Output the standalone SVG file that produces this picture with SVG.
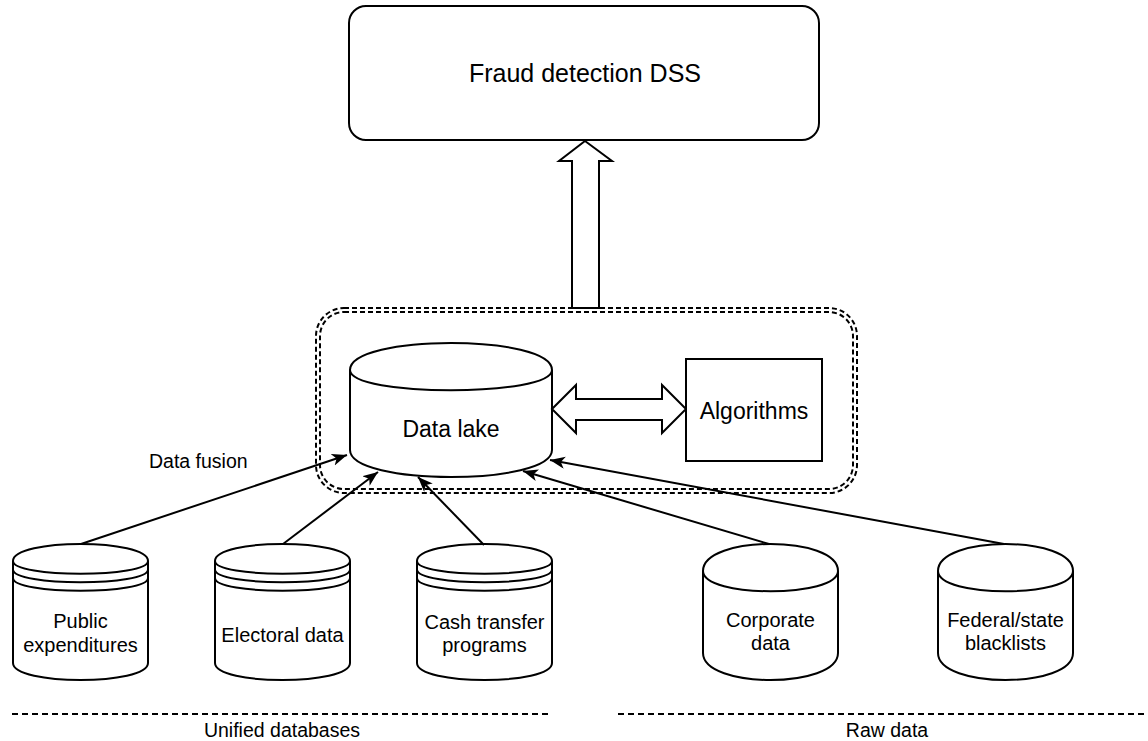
<svg xmlns="http://www.w3.org/2000/svg" width="1148" height="741" viewBox="0 0 1148 741">
<style>
.s{fill:#fff;stroke:#000;stroke-width:2}
.ln{fill:none;stroke:#000;stroke-width:2}
.t{font-family:"Liberation Sans",Arial,sans-serif;fill:#000;text-anchor:middle}
.big{font-size:25px}
.md{font-size:23px}
.sm{font-size:20px}
.lb{font-size:19.5px}
.dash{fill:none;stroke:#000;stroke-width:2;stroke-dasharray:5 3}
.sep{fill:none;stroke:#000;stroke-width:2;stroke-dasharray:6 4}
.con{fill:none;stroke:#000;stroke-width:2;marker-end:url(#ah)}
</style>
<defs>
<marker id="ah" markerUnits="userSpaceOnUse" markerWidth="16" markerHeight="13" refX="15" refY="6" orient="auto">
<path d="M0,0 L15,6 L0,12 L4,6 Z" fill="#000"/>
</marker>
</defs>
<rect width="1148" height="741" fill="#fff"/>

<g id="dss">
<rect class="s" x="349" y="6" width="470" height="134" rx="17"/>
<text class="t big" x="585" y="82">Fraud detection DSS</text>
</g>

<g id="container">
<rect class="dash" x="316" y="308" width="541" height="185" rx="28"/>
<rect class="dash" x="320" y="312" width="533" height="177" rx="24"/>
</g>

<g id="up-arrow">
<polygon class="s" points="585,141 612,161 599,161 599,308 572,308 572,161 559,161"/>
</g>

<g id="data-lake">
<path class="s" d="M350,370 C350,334 552,334 552,370 L552,450 C552,486 350,486 350,450 Z"/>
<path class="ln" d="M350,370 C350,397 552,397 552,370"/>
<text class="t md" x="451" y="437">Data lake</text>
</g>

<g id="both-arrow">
<polygon class="s" points="552,409 576,385 576,399 662,399 662,385 686,409 662,433 662,420 576,420 576,433"/>
</g>

<g id="algorithms">
<rect class="s" x="686" y="359" width="136" height="102"/>
<text class="t md" x="754" y="419">Algorithms</text>
</g>

<g id="public">
<path class="s" d="M13,561 C13,538.3 148,538.3 148,561 L148,663 C148,685.7 13,685.7 13,663 Z"/>
<path class="ln" d="M13,561 C13,578 148,578 148,561 M13,569.5 C13,586.5 148,586.5 148,569.5 M13,578 C13,595 148,595 148,578"/>
<text class="t sm" x="80.5" y="628">Public</text>
<text class="t sm" x="80.5" y="652">expenditures</text>
</g>

<g id="electoral">
<path class="s" d="M215,561 C215,538.3 350,538.3 350,561 L350,663 C350,685.7 215,685.7 215,663 Z"/>
<path class="ln" d="M215,561 C215,578 350,578 350,561 M215,569.5 C215,586.5 350,586.5 350,569.5 M215,578 C215,595 350,595 350,578"/>
<text class="t sm" x="282.5" y="642">Electoral data</text>
</g>

<g id="cash">
<path class="s" d="M417,561 C417,538.3 552,538.3 552,561 L552,663 C552,685.7 417,685.7 417,663 Z"/>
<path class="ln" d="M417,561 C417,578 552,578 552,561 M417,569.5 C417,586.5 552,586.5 552,569.5 M417,578 C417,595 552,595 552,578"/>
<text class="t sm" x="484.5" y="629">Cash transfer</text>
<text class="t sm" x="484.5" y="652">programs</text>
</g>

<g id="corporate">
<path class="s" d="M703,571 C703,535 838,535 838,571 L838,653 C838,689 703,689 703,653 Z"/>
<path class="ln" d="M703,571 C703,598 838,598 838,571"/>
<text class="t sm" x="770.5" y="627">Corporate</text>
<text class="t sm" x="770.5" y="650">data</text>
</g>

<g id="federal">
<path class="s" d="M938,571 C938,535 1073,535 1073,571 L1073,653 C1073,689 938,689 938,653 Z"/>
<path class="ln" d="M938,571 C938,598 1073,598 1073,571"/>
<text class="t sm" x="1005.5" y="627">Federal/state</text>
<text class="t sm" x="1005.5" y="650">blacklists</text>
</g>

<g id="connectors">
<line class="con" x1="81" y1="544" x2="347" y2="455"/>
<line class="con" x1="283" y1="544" x2="378" y2="472"/>
<line class="con" x1="484" y1="545" x2="418" y2="477"/>
<line class="con" x1="769" y1="544" x2="523" y2="471"/>
<line class="con" x1="1004" y1="544" x2="550" y2="460"/>
</g>

<g id="fusion-label">
<text class="t lb" x="149" y="468" style="text-anchor:start">Data fusion</text>
</g>

<g id="groups">
<line class="sep" x1="12" y1="714" x2="552" y2="714"/>
<line class="sep" x1="618" y1="714" x2="1148" y2="714"/>
<text class="t lb" x="282" y="737">Unified databases</text>
<text class="t lb" x="887" y="737">Raw data</text>
</g>
</svg>
